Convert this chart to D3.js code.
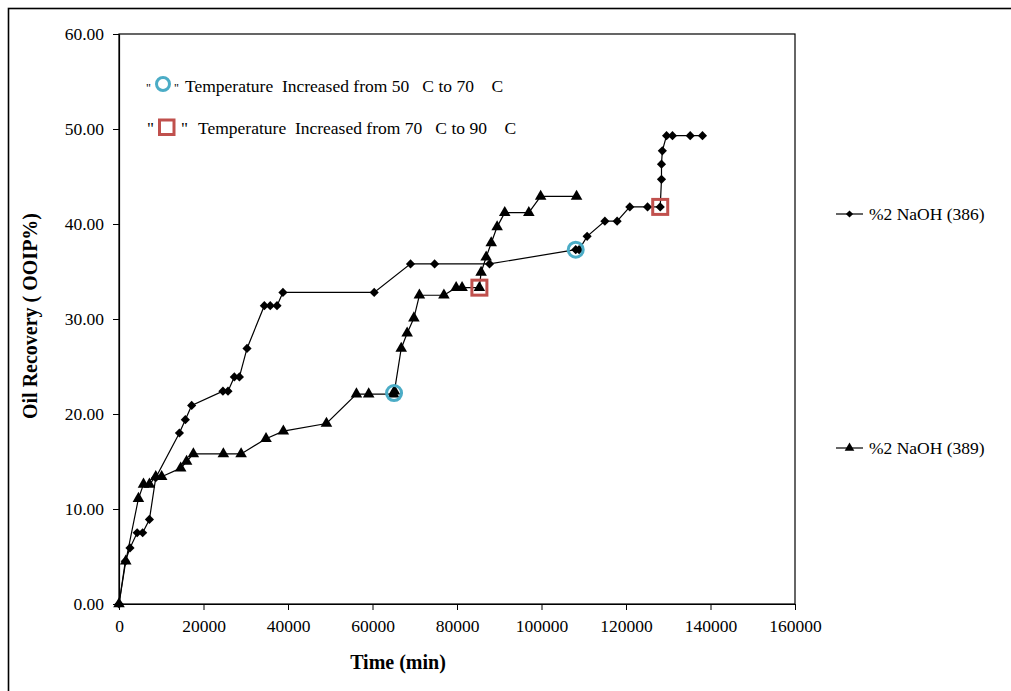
<!DOCTYPE html>
<html>
<head>
<meta charset="utf-8">
<script src="https://cdn.jsdelivr.net/npm/d3@7"></script>
<style>
  html, body { margin: 0; padding: 0; background: #fff; }
  svg { display: block; }
  text { font-family: "Liberation Serif", "Times New Roman", serif; fill: #000; }
</style>
</head>
<body>
<svg id="chart" width="1011" height="691"></svg>
<script>
// Oil recovery vs. time for two 2% NaOH floods
const seriesNames = ["%2 NaOH (386)", "%2 NaOH (389)"];

const time386 = [0, 1500, 2600, 4300, 5600, 7200, 8700, 14300, 15700, 17200, 24600, 25800, 27300, 28500, 30300,
  34400, 35800, 37400, 38800, 60400, 69000, 74700, 87700, 108100, 108900, 110800, 115000, 117900, 120900, 125100,
  128100, 128400, 128400, 128600, 129600, 131000, 135200, 138100];
const recovery386 = [0, 4.5, 5.9, 7.5, 7.5, 8.9, 13.3, 18.0, 19.4, 20.9, 22.4, 22.4, 23.9, 23.9, 26.9,
  31.4, 31.4, 31.4, 32.8, 32.8, 35.8, 35.8, 35.8, 37.3, 37.3, 38.7, 40.3, 40.3, 41.8, 41.8,
  41.8, 44.7, 46.3, 47.7, 49.3, 49.3, 49.3, 49.3];

const time389 = [0, 1600, 4600, 5800, 7200, 8700, 10100, 14600, 16000, 17600, 24700, 28900, 34800, 38900,
  49100, 56200, 59100, 65000, 65200, 66800, 68200, 69800, 71100, 76900, 79800, 81200, 85300, 85700, 86900,
  88100, 89500, 91300, 97000, 99800, 108300];
const recovery389 = [0, 4.5, 11.1, 12.6, 12.6, 13.4, 13.4, 14.3, 15.0, 15.8, 15.8, 15.8, 17.4, 18.2,
  19.0, 22.1, 22.1, 22.1, 22.4, 26.9, 28.5, 30.1, 32.5, 32.5, 33.3, 33.3, 33.3, 34.9, 36.5,
  38.0, 39.7, 41.2, 41.2, 42.9, 42.9];

// Temperature step points: [time, recovery]
const step50to70 = [[65100, 22.2], [108100, 37.3]];
const step70to90 = [[85300, 33.3], [128100, 41.8]];
const stepLabels = ["Temperature  Increased from 50   C to 70    C",
                    "Temperature  Increased from 70   C to 90    C"];

const xTicks = [0, 20000, 40000, 60000, 80000, 100000, 120000, 140000, 160000];
const yTicks = [0, 10, 20, 30, 40, 50, 60];

const svg = d3.select("#chart");

// outer frame
svg.append("rect").attr("x", 8.5).attr("y", 8.5).attr("width", 1010).attr("height", 700)
  .attr("fill", "none").attr("stroke", "#000").attr("stroke-width", 1.6);

const plot = { left: 119, top: 34, right: 795, bottom: 604 };
const x = d3.scaleLinear().domain([0, 160000]).range([plot.left, plot.right]);
const y = d3.scaleLinear().domain([0, 60]).range([plot.bottom, plot.top]);

// plot frame
svg.append("rect").attr("x", plot.left).attr("y", plot.top)
  .attr("width", plot.right - plot.left).attr("height", plot.bottom - plot.top)
  .attr("fill", "none").attr("stroke", "#000").attr("stroke-width", 1.2);

// axes
const xAxis = svg.append("g").attr("transform", `translate(0,${plot.bottom})`)
  .call(d3.axisBottom(x).tickValues(xTicks).tickFormat(d3.format("d")).tickSize(6).tickSizeOuter(0));
const yAxis = svg.append("g").attr("transform", `translate(${plot.left},0)`)
  .call(d3.axisLeft(y).tickValues(yTicks).tickFormat(d3.format(".2f")).tickSize(6).tickSizeOuter(0));
[xAxis, yAxis].forEach(g => {
  g.select(".domain").attr("stroke", "#000").attr("stroke-width", 1.2);
  g.selectAll(".tick line").attr("stroke", "#000").attr("stroke-width", 1);
  g.selectAll(".tick text").attr("font-family", "Liberation Serif").attr("font-size", 17.5).attr("fill", "#000");
});
xAxis.selectAll(".tick text").attr("dy", "0").attr("y", 28);
yAxis.selectAll(".tick text").attr("x", -15).attr("dy", "0.33em");

// axis titles
svg.append("text").attr("x", 398).attr("y", 669).attr("text-anchor", "middle")
  .attr("font-size", 20).attr("font-weight", "bold").text("Time (min)");
svg.append("text").attr("transform", "translate(37,316) rotate(-90)").attr("text-anchor", "middle")
  .attr("font-size", 20).attr("font-weight", "bold").text("Oil Recovery ( OOIP%)");

// series
const line = d3.line().x(d => x(d[0])).y(d => y(d[1]));
const data386 = time386.map((t, i) => [t, recovery386[i]]);
const data389 = time389.map((t, i) => [t, recovery389[i]]);

// diamond = square turned 45 degrees
const diamond = d3.symbol().type(d3.symbolSquare).size(42);
const triangle = d3.symbol().type(d3.symbolTriangle).size(58);
const symRotation = { diamond: 45, triangle: 0 };

function drawSeries(data, sym, rot) {
  svg.append("path").datum(data).attr("d", line)
    .attr("fill", "none").attr("stroke", "#000").attr("stroke-width", 1.2);
  svg.append("g").selectAll("path").data(data).join("path")
    .attr("d", sym)
    .attr("transform", d => `translate(${x(d[0])},${y(d[1])}) rotate(${rot})`)
    .attr("fill", "#000");
}
drawSeries(data389, triangle, symRotation.triangle);
drawSeries(data386, diamond, symRotation.diamond);

// temperature step markers
const circleColor = "#4bacc6", squareColor = "#c0504d";
svg.append("g").selectAll("circle").data(step50to70).join("circle")
  .attr("cx", d => x(d[0])).attr("cy", d => y(d[1])).attr("r", 7.5)
  .attr("fill", "none").attr("stroke", circleColor).attr("stroke-width", 3);
svg.append("g").selectAll("rect").data(step70to90).join("rect")
  .attr("x", d => x(d[0]) - 7.5).attr("y", d => y(d[1]) - 7.5).attr("width", 15).attr("height", 15)
  .attr("fill", "none").attr("stroke", squareColor).attr("stroke-width", 3);

// annotation key (top left)
const key = svg.append("g");
key.append("text").attr("x", 146).attr("y", 92).attr("font-size", 12).text("\"");
key.append("circle").attr("cx", 163).attr("cy", 84).attr("r", 6.5)
  .attr("fill", "none").attr("stroke", circleColor).attr("stroke-width", 3);
key.append("text").attr("x", 174).attr("y", 92).attr("font-size", 12).text("\"");
key.append("text").attr("x", 185).attr("y", 92).attr("font-size", 17.5)
  .style("white-space", "pre").text(stepLabels[0]);

key.append("text").attr("x", 147).attr("y", 134).attr("font-size", 17).text("\"");
key.append("rect").attr("x", 159.5).attr("y", 120).attr("width", 14.5).attr("height", 14.5)
  .attr("fill", "none").attr("stroke", squareColor).attr("stroke-width", 3);
key.append("text").attr("x", 181).attr("y", 134).attr("font-size", 17).text("\"");
key.append("text").attr("x", 198).attr("y", 134).attr("font-size", 17.5)
  .style("white-space", "pre").text(stepLabels[1]);

// series legend (right)
const legendRows = [
  { name: seriesNames[0], sym: d3.symbol().type(d3.symbolSquare).size(26), rot: 45, cy: 214 },
  { name: seriesNames[1], sym: d3.symbol().type(d3.symbolTriangle).size(40), rot: 0, cy: 448 }
];
legendRows.forEach(r => {
  svg.append("line").attr("x1", 836).attr("x2", 863).attr("y1", r.cy).attr("y2", r.cy)
    .attr("stroke", "#000").attr("stroke-width", 1.2);
  svg.append("path").attr("d", r.sym).attr("transform", `translate(849.5,${r.cy}) rotate(${r.rot})`).attr("fill", "#000");
  svg.append("text").attr("x", 869).attr("y", r.cy + 6).attr("font-size", 17.5).text(r.name);
});
</script>
</body>
</html>
